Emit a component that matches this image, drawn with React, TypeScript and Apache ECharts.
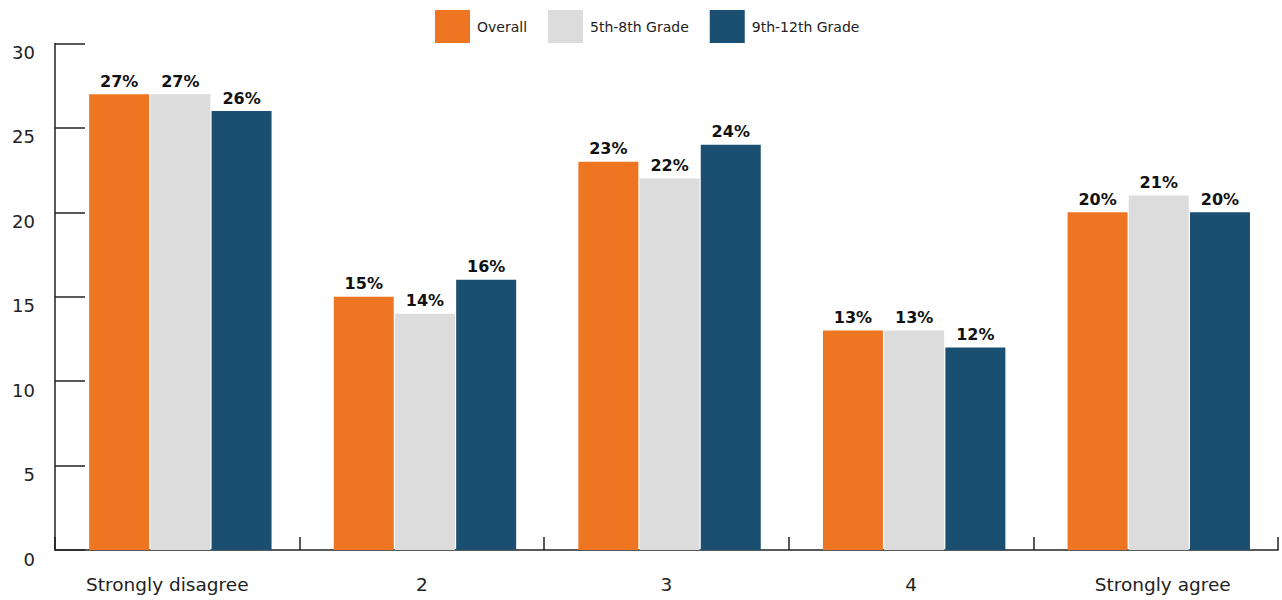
import React, { useEffect, useRef } from "react";
import * as echarts from "echarts";

const categories = ["Strongly disagree", "2", "3", "4", "Strongly agree"];
const seriesNames = ["Overall", "5th-8th Grade", "9th-12th Grade"];
const overall = [27, 15, 23, 13, 20];
const grade5to8 = [27, 14, 22, 13, 21];
const grade9to12 = [26, 16, 24, 12, 20];
const spacer = [0, 0, 0, 0, 0];
const colors = ["#EE7623", "#DCDCDC", "#1B4F72"];

export default function App() {
  const ref = useRef<HTMLDivElement>(null);
  useEffect(() => {
    if (!ref.current) return;
    const chart = echarts.init(ref.current, undefined, { renderer: "svg" });
    const font = "'DejaVu Sans', Verdana, sans-serif";
    const dataSets = [overall, grade5to8, grade9to12];
    const labelPads = [[0, 20, 0, 0], [0, 0, 0, 0], [0, 0, 0, 0], [0, 0, 0, 0], [0, 0, 0, 14]];
    chart.setOption({
      animation: false,
      textStyle: { fontFamily: font },
      legend: {
        left: 430,
        top: 5,
        itemWidth: 35,
        itemHeight: 33,
        itemGap: 21,
        icon: "rect",
        textStyle: { fontSize: 14, color: "#222", fontFamily: font, padding: [0, 0, 0, 2] },
        data: seriesNames,
      },
      grid: { left: 55, right: 4, top: 43.5, bottom: 50, containLabel: false },
      xAxis: {
        type: "category",
        data: categories.map((c, i) => ({ value: c, textStyle: { padding: labelPads[i] } })),
        axisLine: { show: true, lineStyle: { color: "#222", width: 1.5 } },
        axisTick: { show: true, inside: true, length: 13, lineStyle: { color: "#222", width: 1.5 } },
        axisLabel: { fontSize: 18.5, color: "#222", margin: 25, fontFamily: font },
        splitLine: { show: false },
      },
      yAxis: {
        type: "value",
        min: 0,
        max: 30,
        interval: 5,
        axisLine: { show: true, lineStyle: { color: "#222", width: 1.5 } },
        axisTick: { show: true, inside: true, length: 30, lineStyle: { color: "#222", width: 1.5 } },
        axisLabel: { fontSize: 18, color: "#222", margin: 20, verticalAlign: "top", fontFamily: font },
        splitLine: { show: false },
      },
      series: [
        {
          name: "spacer",
          type: "bar",
          data: spacer,
          barWidth: 6,
          barGap: "2%",
          silent: true,
          itemStyle: { color: "rgba(0,0,0,0)" },
          label: { show: false },
        },
        ...seriesNames.map((name, i) => ({
          name,
          type: "bar",
          data: dataSets[i],
          barWidth: 60,
          barGap: "2%",
          itemStyle: { color: colors[i] },
          label: {
            show: true,
            position: "top",
            distance: 5,
            formatter: "{c}%",
            fontSize: 16,
            fontWeight: "bold",
            color: "#111",
            fontFamily: font,
          },
        })),
      ],
    });
    return () => chart.dispose();
  }, []);
  return (
    <div
      ref={ref}
      style={{ position: "fixed", left: 0, top: 0, width: 1282, height: 600, background: "#fff" }}
    />
  );
}
